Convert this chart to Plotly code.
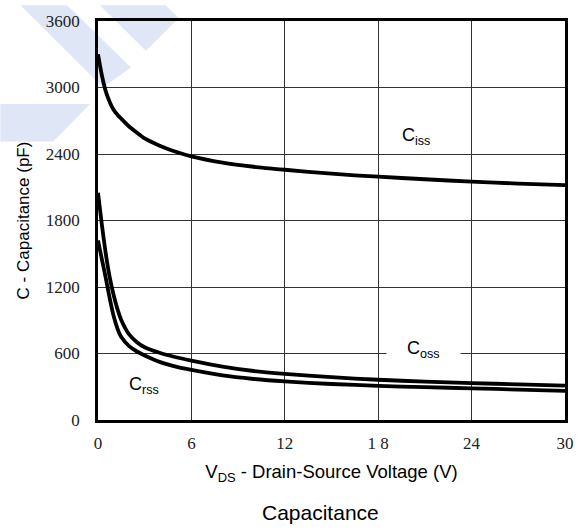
import plotly.graph_objects as go

# ---- data ----
vds = [0, 0.25, 0.5, 0.75, 1, 1.25, 1.5, 2, 2.5, 3, 4, 5, 6, 8, 10, 12, 15, 18, 21, 24, 27, 30]
ciss = [3300, 3110, 2965, 2870, 2800, 2755, 2718, 2648, 2592, 2540, 2472, 2420, 2378, 2322, 2285, 2258, 2222, 2195, 2172, 2150, 2133, 2120]
coss = [2050, 1760, 1500, 1290, 1130, 1000, 900, 772, 702, 656, 604, 566, 536, 482, 442, 416, 386, 363, 346, 333, 321, 310]
crss = [1620, 1450, 1280, 1100, 940, 825, 748, 666, 618, 582, 522, 482, 452, 402, 370, 348, 325, 308, 296, 286, 274, 262]

x_ticks = [0, 6, 12, 18, 24, 30]
x_ticktext = ["0", "6", "12", "1 8", "24", "30"]
y_ticks = [0, 600, 1200, 1800, 2400, 3000, 3600]
y_ticktext = ["0", "600", "1200", "1800", "2400", "3000", "3600"]

W, H = 586, 530
L, R, T, B = 98, 19, 16, 110
PW, PH = W - L - R, H - T - B


def px(x):
    return (x - L) / PW


def py(y):
    return (H - B - y) / PH


fig = go.Figure()
for name, ys in [("Ciss", ciss), ("Coss", coss), ("Crss", crss)]:
    fig.add_trace(go.Scatter(x=vds, y=ys, mode="lines", name=name,
                             line=dict(color="black", width=3.8, shape="spline", smoothing=0.6),
                             showlegend=False))

# light blue watermark stripes (decoration)
wm = "#dfe6f5"
polys = [
    [(20, 0), (67, 0), (131, 63), (103, 83)],
    [(100, 0), (166, 0), (179, 13), (146, 46)],
    [(0, 100), (90, 100), (53, 138), (0, 138)],
]
shapes = []
for poly in polys:
    path = "M " + " L ".join(f"{px(a):.4f},{py(b):.4f}" for a, b in poly) + " Z"
    shapes.append(dict(type="path", xref="paper", yref="paper", path=path,
                       fillcolor=wm, line=dict(width=0), layer="below"))

sans = "Liberation Sans, Arial, sans-serif"
serif = "Liberation Serif, Times New Roman, serif"

annotations = [
    dict(x=20.4, y=2560, xref="x", yref="y", text="C<sub>iss</sub>", showarrow=False,
         font=dict(family=sans, size=18, color="black")),
    dict(x=20.9, y=640, xref="x", yref="y",
         text="\u00a0\u00a0\u00a0\u00a0C<sub>oss</sub>\u00a0\u00a0\u00a0\u00a0", showarrow=False,
         bgcolor="white", borderpad=0,
         font=dict(family=sans, size=18, color="black")),
    dict(x=2.95, y=310, xref="x", yref="y", text="C<sub>rss</sub>", showarrow=False,
         font=dict(family=sans, size=18, color="black")),
    dict(x=px(321), y=py(514), xref="paper", yref="paper", text="Capacitance", showarrow=False,
         xanchor="center", yanchor="middle",
         font=dict(family=sans, size=21, color="black")),
]

fig.update_layout(
    width=W, height=H,
    margin=dict(l=L, r=R, t=T, b=B),
    paper_bgcolor="white",
    plot_bgcolor="rgba(0,0,0,0)",
    shapes=shapes,
    annotations=annotations,
    xaxis=dict(range=[0, 30], tickvals=x_ticks, ticktext=x_ticktext,
               showgrid=True, gridcolor="#333333", gridwidth=1.3,
               showline=True, linecolor="black", linewidth=2.6, mirror=True,
               zeroline=False, ticks="", ticklabelstandoff=6,
               tickfont=dict(family=serif, size=17, color="#222222"),
               title=dict(text="V<sub>DS</sub> - Drain-Source Voltage (V)",
                          font=dict(family=sans, size=18.5, color="black"), standoff=13)),
    yaxis=dict(range=[0, 3600], tickvals=y_ticks, ticktext=y_ticktext,
               showgrid=True, gridcolor="#333333", gridwidth=1.3,
               showline=True, linecolor="black", linewidth=2.6, mirror=True,
               zeroline=False, ticks="", ticklabelstandoff=12,
               tickfont=dict(family=serif, size=17, color="#222222"),
               title=dict(text="C - Capacitance (pF)",
                          font=dict(family=sans, size=17, color="black"), standoff=12)),
)

fig.write_html("out.html")
